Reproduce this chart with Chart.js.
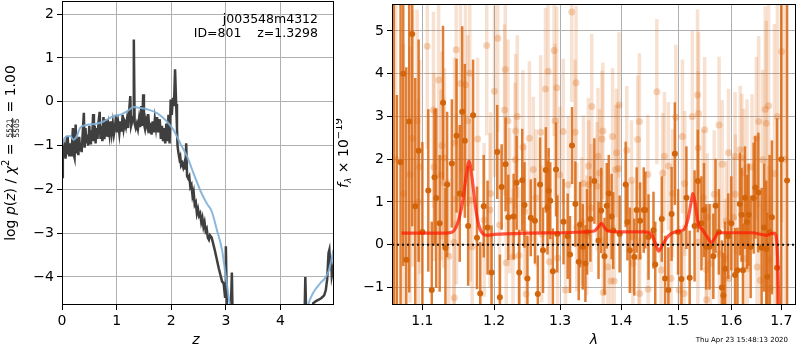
<!DOCTYPE html>
<html>
<head>
<meta charset="utf-8">
<script src="https://cdn.jsdelivr.net/npm/chart.js@4.4.1/dist/chart.umd.min.js"></script>
<style>
  body { margin: 0; background: #fff; width: 800px; height: 350px; overflow: hidden; position: relative; }
  canvas { position: absolute; top: 0; }
  #pz { left: 0; }
  #spec { left: 336px; }
</style>
</head>
<body>
<canvas id="pz" width="340" height="350"></canvas>
<canvas id="spec" width="464" height="350"></canvas>
<script>
// ---- labels ----
const fieldName = 'j003548m4312'
const objId = 801
const zBest = '1.3298'
const chi2Num = '5521'
const chi2Den = '5505'
const chi2Ratio = '1.00'
const stamp = 'Thu Apr 23 15:48:13 2020'

// ---- left panel: log p(z) ----
const zTicks = [0, 1, 2, 3, 4]
const pzTicks = [-4, -3, -2, -1, 0, 1, 2]
const zGrid = [0.000,0.015,0.025,0.035,0.050,0.065,0.080,0.092,0.105,0.120,0.135,0.150,0.165,0.180,0.200,0.215,0.230,0.250,0.265,0.280,0.300,0.315,0.330,0.345,0.360,0.380,0.400,0.415,0.430,0.445,0.460,0.480,0.500,0.515,0.530,0.550,0.570,0.585,0.600,0.615,0.630,0.650,0.670,0.690,0.705,0.720,0.740,0.760,0.775,0.790,0.810,0.830,0.850,0.870,0.890,0.910,0.930,0.950,0.970,0.990,1.010,1.030,1.050,1.070,1.090,1.110,1.130,1.150,1.170,1.190,1.210,1.230,1.250,1.265,1.285,1.300,1.315,1.330,1.350,1.370,1.390,1.410,1.430,1.450,1.470,1.486,1.500,1.520,1.540,1.560,1.580,1.600,1.620,1.640,1.660,1.680,1.700,1.720,1.740,1.760,1.790,1.810,1.830,1.850,1.870,1.890,1.910,1.930,1.950,1.970,1.990,2.010,2.030,2.050,2.070,2.090,2.105,2.115,2.130,2.150,2.165,2.180,2.200,2.220,2.240,2.260,2.274,2.290,2.310,2.330,2.350,2.370,2.390,2.410,2.430,2.450,2.470,2.490,2.510,2.530,2.550,2.570,2.590,2.610,2.630,2.650,2.670,2.690,2.710,2.740,2.770,2.800,2.835,2.870,2.900,2.930,2.960,2.985,3.000,3.020,3.060,3.090,3.110,3.125,3.160,3.500,4.000,4.400,4.440,4.455,4.470,4.500,4.550,4.600,4.650,4.700,4.750,4.800,4.830,4.855,4.880,4.895,4.910,4.925,4.940,4.960,4.970]
const logpChi2 = [-1.72,-1.05,-0.93,-1.25,-1.10,-1.30,-1.10,-0.78,-1.20,-1.05,-1.25,-0.95,-1.22,-1.05,-0.60,-1.20,-1.28,-0.52,-1.18,-1.00,-1.22,-0.80,-1.10,-0.95,-1.15,-0.70,-0.25,-1.05,-0.60,-0.95,-0.75,-1.00,-0.55,-0.95,-0.65,-0.90,-0.28,-0.90,-0.55,-0.95,-0.60,-0.85,-0.45,-0.23,-0.85,-0.55,-0.90,-0.35,-0.85,-0.70,-0.40,-0.80,-0.55,-0.75,-0.45,-0.72,-0.50,-0.75,-0.60,-0.30,-0.70,-0.50,-0.72,-0.45,-0.68,-0.30,-0.62,-0.48,-0.58,-0.40,-0.60,-0.20,0.13,-0.55,-0.45,-0.35,1.42,-0.50,-0.60,-0.50,-0.62,-0.40,-0.58,-0.10,-0.55,0.17,-0.50,-0.62,-0.42,-0.55,-0.28,-0.72,-0.48,-0.75,-0.45,-0.70,-0.40,-0.60,-0.35,-0.70,-0.40,-0.85,-0.55,-0.90,-0.60,-0.95,-0.50,-0.90,-0.30,-0.95,0.05,-0.30,0.09,-0.10,0.74,-0.05,-0.60,-1.00,-1.15,-1.30,-1.25,-1.45,-1.40,-1.50,-1.40,-1.55,-0.95,-1.70,-1.75,-1.70,-1.95,-1.90,-2.15,-2.05,-2.35,-2.30,-2.55,-2.45,-2.60,-2.55,-2.75,-2.65,-2.85,-2.75,-2.95,-2.90,-3.10,-3.15,-3.05,-3.10,-3.25,-3.40,-3.60,-3.80,-3.95,-4.10,-4.15,-4.45,-3.30,-4.80,-5.20,-4.80,-3.90,-5.00,-6.00,-8.00,-8.00,-6.00,-4.95,-4.00,-4.80,-5.10,-4.90,-4.60,-4.55,-4.52,-4.48,-4.42,-4.30,-4.05,-3.45,-3.38,-3.70,-3.55,-3.98,-3.85,-3.95]
const zSmooth = [0.00,0.04,0.09,0.15,0.21,0.27,0.33,0.45,0.64,0.76,0.94,1.06,1.19,1.31,1.43,1.58,1.74,1.92,2.04,2.165,2.29,2.41,2.53,2.65,2.74,2.835,2.93,2.99,3.05,3.10,3.15,4.40,4.51,4.60,4.73,4.82,4.88,4.92,4.97]
const logpSmooth = [-1.02,-0.85,-0.79,-0.78,-0.87,-0.79,-0.60,-0.53,-0.50,-0.45,-0.33,-0.30,-0.22,-0.12,-0.14,-0.18,-0.26,-0.45,-0.64,-0.95,-1.25,-1.64,-2.02,-2.32,-2.50,-2.92,-3.38,-3.91,-4.44,-4.90,-5.40,-5.40,-4.63,-4.36,-4.14,-4.02,-3.87,-3.68,-3.38]

// ---- right panel: spectrum ----
const lamTicks = [1.1, 1.2, 1.3, 1.4, 1.5, 1.6, 1.7]
const fluxTicks = [-1, 0, 1, 2, 3, 4, 5]
const lamMin = 1.0602
const lamMax = 1.7306
const darkLam = [1.0625,1.0665,1.0713,1.0748,1.0787,1.0826,1.0865,1.0905,1.0950,1.1000,1.1079,1.1126,1.1163,1.1186,1.1233,1.1279,1.1312,1.1335,1.1400,1.1465,1.1510,1.1544,1.1581,1.1628,1.1698,1.1753,1.1800,1.1850,1.1905,1.1963,1.2045,1.2084,1.2110,1.2168,1.2208,1.2287,1.2332,1.2371,1.2416,1.2450,1.2495,1.2545,1.2609,1.2653,1.2688,1.2733,1.2777,1.2802,1.2820,1.2846,1.2886,1.2936,1.2955,1.3054,1.3120,1.3157,1.3189,1.3243,1.3297,1.3319,1.3362,1.3405,1.3432,1.3486,1.3551,1.3620,1.3665,1.3719,1.3757,1.3790,1.3838,1.3865,1.3973,1.4076,1.4106,1.4147,1.4224,1.4265,1.4324,1.4388,1.4415,1.4471,1.4559,1.4590,1.4706,1.4765,1.4824,1.4882,1.4941,1.5000,1.5061,1.5152,1.5212,1.5303,1.5364,1.5430,1.5479,1.5520,1.5582,1.5655,1.5697,1.5760,1.5818,1.5848,1.5879,1.5940,1.6000,1.6073,1.6120,1.6167,1.6200,1.6227,1.6267,1.6307,1.6340,1.6380,1.6440,1.6473,1.6533,1.6600,1.6650,1.6693,1.6713,1.6760,1.6807,1.6913,1.7000,1.7120]
const darkFlux = [6.5,-2.5,1.93,4.0,-0.35,2.88,4.93,0.9,2.2,0.3,1.27,-1.06,1.58,1.09,0.5,3.32,-0.07,1.41,1.9,2.55,1.2,3.11,2.43,0.44,3.03,0.16,-1.14,0.9,0.4,-0.65,2.17,-1.23,1.35,1.88,0.64,0.66,1.45,-0.65,1.51,0.93,-0.79,0.63,0.56,-1.15,1.41,-0.13,1.75,0.87,1.26,1.03,-0.62,1.76,0.25,0.54,0.2,-0.23,2.32,0.95,-0.4,0.47,-0.05,-0.44,0.3,0.6,1.49,0.1,0.8,-0.27,0.91,1.2,0.66,0.33,0.25,1.41,0.53,-0.13,-0.29,0.81,0.56,0.81,0.81,0.18,0.34,-0.46,0.6,-0.79,-1.06,0.72,2.13,0.3,-0.8,1.1,-0.77,0.44,1.49,0.5,0.81,-0.05,-0.05,-0.27,0.91,0.3,-1.0,-1.19,-0.56,0.2,0.5,-0.71,-0.6,0.95,0.7,-0.6,1.1,0.53,0.7,-0.05,1.09,1.34,1.22,-0.07,0.4,-0.1,-0.75,0.3,0.64,-0.54,2.0,1.5]
const darkErr = [8,6,5,4.5,4.5,4,4.5,3,2.6,2.1,1.9,1.6,1.6,2.1,1.6,1.8,1.4,1.7,1.5,1.8,1.6,2.0,1.8,1.4,1.3,1.2,1.2,1.2,1.1,1.1,1.1,1.0,1.0,1.1,1.0,1.0,1.1,1.0,1.2,1.0,1.0,0.9,1.0,0.9,1.1,1.0,1.0,1.1,1.0,0.9,1.0,1.1,0.9,1.0,1.0,0.9,0.9,1.0,0.9,1.0,1.0,0.9,1.0,1.0,1.0,0.9,1.0,0.9,1.0,0.9,1.0,0.9,0.9,1.0,0.9,1.0,0.9,1.0,0.9,1.0,0.9,1.0,0.9,1.0,1.0,1.0,1.0,1.1,1.2,1.0,1.1,1.2,1.1,1.3,1.2,1.1,1.1,1.0,1.0,1.0,1.1,1.0,1.1,1.0,1.1,1.0,1.1,1.1,1.0,1.2,1.1,1.1,1.2,1.1,1.2,1.2,1.3,1.2,1.4,1.4,1.5,1.6,1.5,1.8,1.8,3.5,7,7]
const lightLam = [1.0650,1.0750,1.0835,1.0870,1.0930,1.0945,1.0965,1.1065,1.1149,1.1155,1.1219,1.1251,1.1265,1.1288,1.1298,1.1358,1.1428,1.1435,1.1437,1.1460,1.1465,1.1521,1.1590,1.1623,1.1651,1.1660,1.1684,1.1763,1.1856,1.1893,1.1940,1.1949,1.2005,1.2054,1.2079,1.2153,1.2163,1.2178,1.2203,1.2228,1.2277,1.2312,1.2317,1.2342,1.2366,1.2426,1.2450,1.2475,1.2525,1.2584,1.2624,1.2698,1.2713,1.2772,1.2812,1.2832,1.2906,1.2921,1.2946,1.2960,1.2995,1.3049,1.3086,1.3130,1.3184,1.3238,1.3254,1.3265,1.3346,1.3373,1.3427,1.3454,1.3460,1.3497,1.3508,1.3595,1.3611,1.3638,1.3676,1.3692,1.3698,1.3773,1.3827,1.3854,1.3881,1.3908,1.3919,1.3951,1.3962,1.4094,1.4176,1.4194,1.4200,1.4282,1.4300,1.4312,1.4318,1.4459,1.4465,1.4618,1.4694,1.4724,1.4753,1.4824,1.4871,1.4900,1.4959,1.5018,1.5079,1.5109,1.5121,1.5261,1.5358,1.5364,1.5370,1.5376,1.5461,1.5491,1.5521,1.5527,1.5539,1.5600,1.5673,1.5764,1.5770,1.5824,1.5885,1.5903,1.5945,1.5951,1.6040,1.6073,1.6080,1.6173,1.6207,1.6240,1.6246,1.6307,1.6313,1.6407,1.6493,1.6507,1.6540,1.6573,1.6620,1.6673,1.6693,1.6740,1.6746,1.6773,1.6860,1.6920,1.7007,1.7080]
const lightFlux = [2.0,1.2,1.64,2.49,2.9,1.0,1.82,4.64,3.15,1.82,3.85,1.63,2.32,1.45,2.03,-0.27,0.06,-1.24,2.38,4.56,1.07,3.77,3.74,2.9,4.01,1.04,-0.05,2.47,0.58,4.66,0.81,1.2,3.59,4.83,0.46,3.15,4.1,-0.42,2.9,1.03,-0.29,1.99,2.66,3.0,-0.25,2.28,0.78,-1.15,2.49,1.76,1.1,2.63,0.25,3.64,4.06,-0.4,4.54,2.9,3.67,-0.31,1.63,2.65,-1.06,1.4,5.44,2.63,3.79,0.41,0.54,1.43,0.22,1.84,1.41,0.86,3.23,1.37,2.07,1.68,2.47,2.66,-1.12,-0.52,-0.85,2.53,-0.85,1.76,2.15,1.78,3.27,2.21,1.51,0.18,-0.44,2.46,-0.29,2.88,-1.14,1.64,-1.04,3.58,-0.59,1.68,2.07,1.84,-0.79,1.2,2.98,-1.06,2.53,-1.14,1.43,3.0,3.5,0.06,2.26,3.07,1.1,2.69,-0.58,-1.29,0.64,-0.44,1.18,2.8,-0.21,1.88,-0.32,0.56,2.15,-0.79,0.64,2.07,1.18,2.22,2.03,1.68,-0.32,1.8,-0.56,1.82,2.49,-0.52,2.88,-0.83,1.99,3.17,2.84,3.25,-0.36,-1.02,1.66,3.0,4.52,2.0]
const lightErr = [4.0,3.5,3.0,3.0,2.6,2.4,2.5,2.4,2.3,2.2,2.3,2.0,2.2,2.0,2.1,1.8,1.9,1.8,2.0,2.2,2.0,2.1,2.0,2.0,2.2,1.9,1.8,1.9,1.8,2.1,1.8,1.9,2.0,2.2,1.8,2.0,2.1,1.7,1.9,1.7,1.6,1.8,1.8,1.9,1.6,1.8,1.6,1.5,1.8,1.7,1.6,1.8,1.6,1.9,2.0,1.5,2.0,1.8,1.9,1.5,1.6,1.7,1.4,1.6,2.1,1.7,1.8,1.5,1.5,1.6,1.4,1.6,1.5,1.5,1.7,1.5,1.6,1.5,1.6,1.6,1.3,1.4,1.3,1.6,1.3,1.5,1.5,1.5,1.7,1.5,1.4,1.3,1.3,1.5,1.3,1.6,1.3,1.4,1.3,1.7,1.3,1.4,1.5,1.5,1.4,1.5,1.7,1.5,1.8,1.6,1.7,2.0,2.0,1.7,1.8,1.9,1.6,1.7,1.5,1.5,1.5,1.4,1.5,1.6,1.4,1.5,1.4,1.4,1.5,1.4,1.4,1.5,1.4,1.5,1.5,1.5,1.4,1.6,1.5,1.7,1.9,1.7,2.0,1.8,2.1,2.4,2.4,2.6,2.2,2.2,3.5,3.5,4.0,4.5]
const modelLam = [1.0726,1.100,1.130,1.140,1.148,1.155,1.160,1.164,1.168,1.173,1.178,1.183,1.190,1.200,1.250,1.300,1.340,1.355,1.362,1.367,1.372,1.378,1.400,1.440,1.452,1.460,1.465,1.472,1.482,1.495,1.510,1.518,1.524,1.527,1.531,1.537,1.545,1.553,1.562,1.568,1.575,1.600,1.640,1.660,1.670,1.680,1.686,1.690,1.693,1.696]
const modelFlux = [0.27,0.27,0.27,0.29,0.5,1.0,1.6,1.95,1.6,0.9,0.45,0.27,0.22,0.24,0.27,0.28,0.30,0.32,0.42,0.5,0.40,0.32,0.30,0.30,0.25,0.0,-0.15,0.0,0.2,0.3,0.35,0.6,1.0,1.2,1.0,0.5,0.35,0.2,0.05,0.15,0.28,0.28,0.28,0.24,0.22,0.26,0.27,0.15,-0.5,-2.0]

const FONT = '"DejaVu Sans"'
const GRID = '#b0b0b0'
const ORANGE = 'rgba(218,104,18,'

const fmt = v => String(v).replace('-', '\u2212')
const pts = (xs, ys) => xs.map((x, i) => ({ x: x, y: ys[i] }))

// black box around the plot area
const frame = {
    id: 'frame',
    afterDraw(chart) {
        const { ctx, chartArea: a } = chart
        ctx.save()
        ctx.strokeStyle = '#000'
        ctx.lineWidth = 1
        ctx.strokeRect(a.left + 0.5, a.top + 0.5, a.right - a.left - 1, a.bottom - a.top - 1)
        ctx.restore()
    }
}

// vertical error bars, drawn just under each dataset's markers
const errorBars = {
    id: 'errorBars',
    beforeDatasetDraw(chart, args) {
        const ds = chart.data.datasets[args.index]
        if (!ds.errors) return
        const { ctx, chartArea: a, scales: { x, y } } = chart
        ctx.save()
        ctx.beginPath()
        ctx.rect(a.left, a.top, a.right - a.left, a.bottom - a.top)
        ctx.clip()
        ctx.strokeStyle = ds.errColor
        ctx.lineWidth = ds.errWidth
        ds.data.forEach((p, i) => {
            const px = x.getPixelForValue(p.x)
            ctx.beginPath()
            ctx.moveTo(px, y.getPixelForValue(p.y - ds.errors[i]))
            ctx.lineTo(px, y.getPixelForValue(p.y + ds.errors[i]))
            ctx.stroke()
        })
        ctx.restore()
    }
}

// mixed-font text runs (for the math labels), centred on cx along the baseline cy
function drawRuns(ctx, runs, cx, cy) {
    let total = 0
    runs.forEach(r => {
        ctx.font = r.font
        r.w = r.num ? Math.max(ctx.measureText(r.num).width, ctx.measureText(r.den).width) + 3 : ctx.measureText(r.t).width
        total += r.w
    })
    let x = cx - total / 2
    ctx.textBaseline = 'alphabetic'
    runs.forEach(r => {
        ctx.font = r.font
        if (r.num) {
            ctx.textAlign = 'center'
            ctx.fillText(r.num, x + r.w / 2, cy - 3.3)
            ctx.fillText(r.den, x + r.w / 2, cy + 3.8)
            ctx.fillRect(x + 1, cy - 2.7, r.w - 2, 0.8)
        } else {
            ctx.textAlign = 'left'
            ctx.fillText(r.t, x, cy + (r.dy || 0))
        }
        x += r.w
    })
}

const pzText = {
    id: 'pzText',
    afterDraw(chart) {
        const ctx = chart.ctx
        ctx.save()
        ctx.fillStyle = '#000'
        ctx.font = `12.5px ${FONT}`
        ctx.textAlign = 'right'
        ctx.textBaseline = 'middle'
        ctx.fillText(fieldName, 318, 20)
        ctx.fillText(`ID=${objId}    z=${zBest}`, 318, 34)
        ctx.font = `italic 14px ${FONT}`
        ctx.textAlign = 'center'
        ctx.fillText('z', 196, 340)

        ctx.translate(15, 153)
        ctx.rotate(-Math.PI / 2)
        const n = `14px ${FONT}`, it = `italic 14px ${FONT}`
        drawRuns(ctx, [
            { t: 'log ', font: n }, { t: 'p', font: it }, { t: '(', font: n }, { t: 'z', font: it },
            { t: ') / ', font: n }, { t: '\u03c7', font: it }, { t: '2', font: `10px ${FONT}`, dy: -6 },
            { t: ' = ', font: n }, { num: chi2Num, den: chi2Den, font: `7.5px ${FONT}` },
            { t: ' = ' + chi2Ratio, font: n }
        ], 0, 0)
        ctx.restore()
    }
}

const specText = {
    id: 'specText',
    afterDraw(chart) {
        const ctx = chart.ctx
        ctx.save()
        ctx.fillStyle = '#000'
        ctx.font = `italic 14px ${FONT}`
        ctx.textAlign = 'center'
        ctx.textBaseline = 'middle'
        ctx.fillText('\u03bb', 258, 340)
        ctx.font = `7px ${FONT}`
        ctx.textAlign = 'right'
        ctx.fillText(stamp, 452, 340)

        ctx.translate(11.5, 153)
        ctx.rotate(-Math.PI / 2)
        drawRuns(ctx, [
            { t: 'f', font: `italic 14px ${FONT}` }, { t: '\u03bb', font: `italic 9px ${FONT}`, dy: 3 },
            { t: ' \u00d7 10', font: `14px ${FONT}` }, { t: '\u221219', font: `10px ${FONT}`, dy: -6 }
        ], 0, 0)
        ctx.restore()
    }
}

// fixed axis box size, no extra padding for end labels
const fixSize = (w, h) => s => {
    if (w) s.width = w
    if (h) s.height = h
    s.paddingTop = 0
    s.paddingBottom = 0
    s.paddingLeft = 0
    s.paddingRight = 0
}

const axisStyle = (ticks, cb) => ({
    afterBuildTicks: s => { s.ticks = ticks.map(v => ({ value: v })) },
    grid: { color: GRID, lineWidth: 1, tickColor: '#000', tickLength: 5 },
    border: { display: false },
    ticks: { font: { family: 'DejaVu Sans', size: 14 }, color: '#000', padding: 3, maxRotation: 0, autoSkip: false, callback: cb }
})

new Chart(document.getElementById('pz'), {
    type: 'scatter',
    data: {
        datasets: [
            {
                data: pts(zSmooth, logpSmooth), showLine: true, borderColor: 'rgba(125,175,215,0.9)', borderWidth: 2,
                pointRadius: 0, cubicInterpolationMode: 'monotone', clip: 0, order: 1
            },
            {
                data: pts(zGrid, logpChi2), showLine: true, borderColor: '#3f3f3f', borderWidth: 2.5,
                pointRadius: 0, tension: 0, clip: 0, order: 2
            }
        ]
    },
    options: {
        responsive: false, animation: false, events: [],
        layout: { padding: { top: 1, right: 6, left: 0, bottom: 0 } },
        plugins: { legend: { display: false }, tooltip: { enabled: false } },
        scales: {
            x: Object.assign(axisStyle(zTicks, v => fmt(v)), { type: 'linear', min: 0, max: 4.98, afterFit: fixSize(0, 45) }),
            y: Object.assign(axisStyle(pzTicks, v => fmt(v)), { type: 'linear', min: -4.64, max: 2.30, afterFit: fixSize(62, 0) })
        }
    },
    plugins: [frame, pzText]
})

new Chart(document.getElementById('spec'), {
    type: 'scatter',
    data: {
        datasets: [
            {
                data: [{ x: lamMin, y: 0 }, { x: lamMax, y: 0 }], showLine: true, borderColor: '#111', borderWidth: 2,
                borderDash: [2, 3], pointRadius: 0, clip: 0, order: 0
            },
            {
                data: pts(modelLam, modelFlux), showLine: true, borderColor: 'rgba(255,25,0,0.72)', borderWidth: 3.2,
                pointRadius: 0, cubicInterpolationMode: 'monotone', clip: 0, order: 1
            },
            {
                data: pts(darkLam, darkFlux), pointRadius: 3, pointBorderWidth: 0, pointBackgroundColor: '#d2650c',
                errors: darkErr, errColor: ORANGE + '0.85)', errWidth: 2.5, clip: 0, order: 2
            },
            {
                data: pts(lightLam, lightFlux), pointRadius: 3.5, pointBorderWidth: 0, pointBackgroundColor: ORANGE + '0.28)',
                errors: lightErr, errColor: ORANGE + '0.2)', errWidth: 3.5, clip: 0, order: 3
            }
        ]
    },
    options: {
        responsive: false, animation: false, events: [],
        layout: { padding: { top: 1, right: 0, left: 0, bottom: 0 } },
        plugins: { legend: { display: false }, tooltip: { enabled: false } },
        scales: {
            x: Object.assign(axisStyle(lamTicks, v => Number(v).toFixed(1)), { type: 'logarithmic', min: lamMin, max: lamMax, z: 1, afterFit: fixSize(0, 45) }),
            y: Object.assign(axisStyle(fluxTicks, v => fmt(v)), { type: 'linear', min: -1.41, max: 5.63, z: 1, afterFit: fixSize(56, 0) })
        }
    },
    plugins: [errorBars, frame, specText]
})
</script>
</body>
</html>
